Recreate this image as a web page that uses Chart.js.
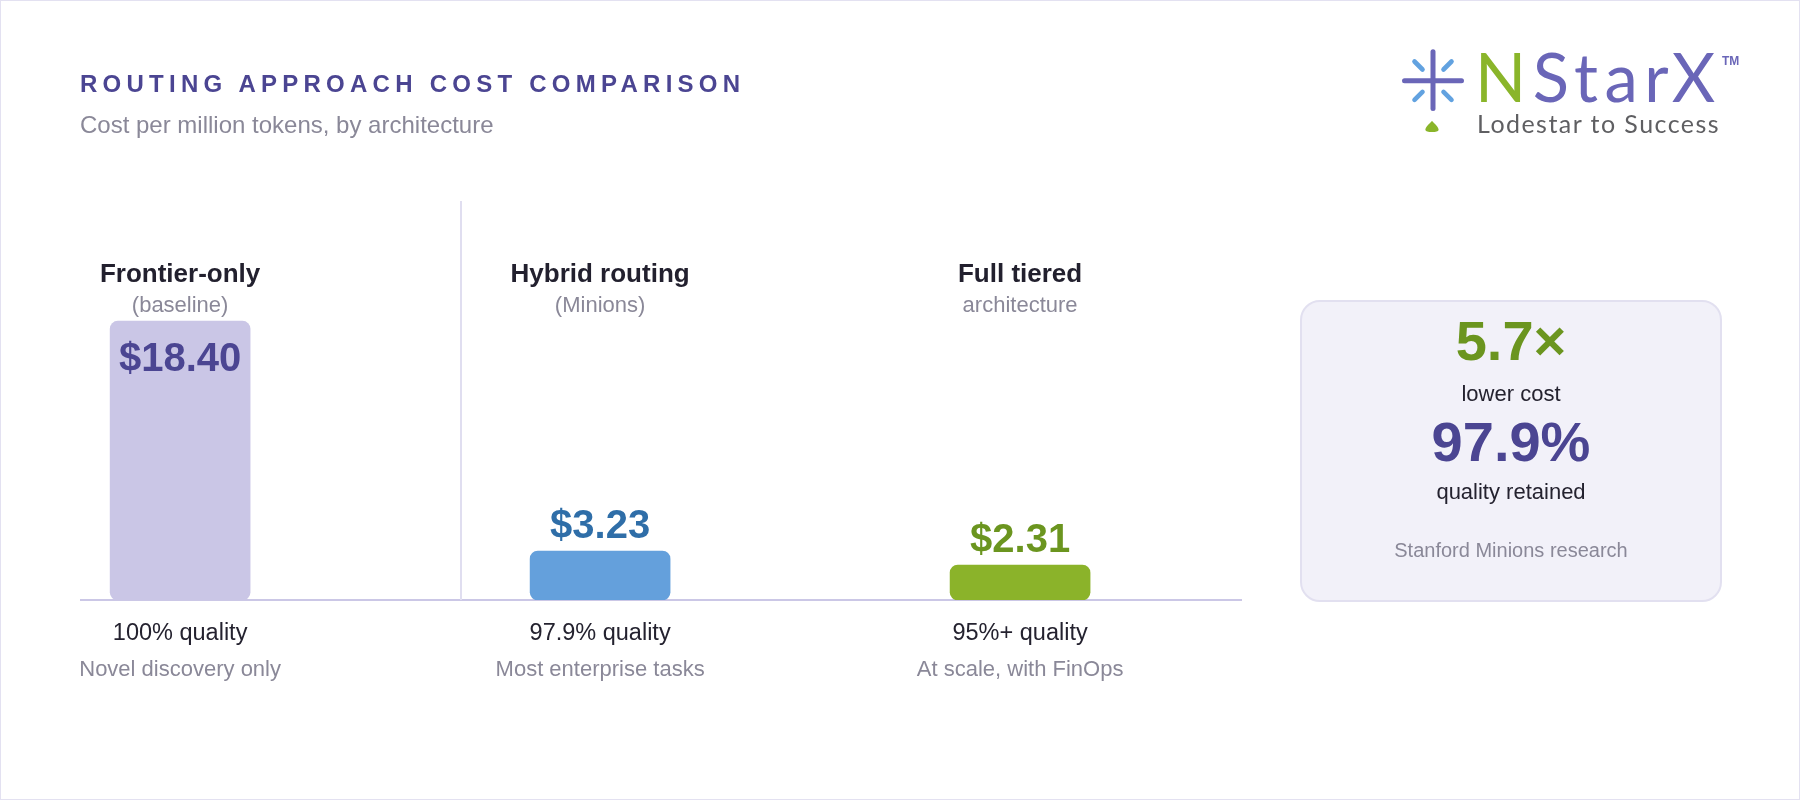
<!DOCTYPE html>
<html>
<head>
<meta charset="utf-8">
<script src="https://cdn.jsdelivr.net/npm/chart.js@4.4.1/dist/chart.umd.min.js"></script>
<style>
  html, body { margin: 0; padding: 0; background: #ffffff; }
  #frame { position: relative; width: 1800px; height: 800px; box-sizing: border-box; border: 1px solid #e3e1f1; overflow: hidden; font-family: "Liberation Sans", Arial, sans-serif; background: #fff; }
  #chart { position: absolute; left: 0; top: 0; }
  .abs { position: absolute; white-space: nowrap; line-height: 1; }
  #title { left: 79px; top: 71px; font-size: 24px; font-weight: 700; letter-spacing: 5.25px; color: #4b4592; }
  #subtitle { left: 79px; top: 112px; font-size: 24px; color: #8a8898; }
  #card { position: absolute; left: 1299px; top: 299px; width: 422px; height: 302px; box-sizing: border-box; border: 2px solid #e2e0f0; border-radius: 20px; background: #f2f1f9; }
  #card .abs { left: 0; width: 100%; text-align: center; }
  #logoText { left: 1474px; top: 42px; font-family: Lato, "Open Sans", sans-serif; font-size: 67px; font-weight: 400; letter-spacing: 6.5px; color: #6a66b8; }
  #logoText .n { color: #8ab52a; }
  #tm { left: 1721px; top: 54px; font-family: "Liberation Sans", Arial, sans-serif; font-size: 12px; font-weight: 700; color: #6a66b8; }
  #tagline { left: 1476px; top: 110px; font-family: Lato, "Open Sans", sans-serif; font-size: 25px; color: #5f5f62; letter-spacing: 1.45px; }
</style>
</head>
<body>
<div id="frame">
  <canvas id="chart" width="1800" height="800"></canvas>
  <div id="title" class="abs"></div>
  <div id="subtitle" class="abs"></div>

  <svg style="position:absolute;left:1390px;top:40px" width="80" height="100" viewBox="0 0 80 100">
    <g stroke-linecap="round" fill="none">
      <line x1="42" y1="10.8" x2="42" y2="67.5" stroke="#6a66b8" stroke-width="5"/>
      <line x1="13.5" y1="39.7" x2="70.5" y2="39.7" stroke="#6a66b8" stroke-width="5"/>
      <line x1="23.5" y1="20.5" x2="31.5" y2="28.5" stroke="#62a2e0" stroke-width="4.6"/>
      <line x1="52.5" y1="28.5" x2="60.5" y2="20.5" stroke="#62a2e0" stroke-width="4.6"/>
      <line x1="23.5" y1="58.9" x2="31.5" y2="50.9" stroke="#62a2e0" stroke-width="4.6"/>
      <line x1="52.5" y1="50.9" x2="60.5" y2="58.9" stroke="#62a2e0" stroke-width="4.6"/>
    </g>
    <path d="M41,80 C43,82 48,86.5 47.6,89 Q47,91 41,91 Q35,91 34.4,89 C34,86.5 39,82 41,80Z" fill="#8ab52a"/>
  </svg>
  <div id="logoText" class="abs"><span class="n">N</span>StarX</div>
  <div id="tm" class="abs">TM</div>
  <div id="tagline" class="abs">Lodestar to Success</div>

  <div id="card">
    <div class="abs" id="kpi1" style="top:11px;font-size:56px;font-weight:700;color:#6b951f;"></div>
    <div class="abs" id="kpi1l" style="top:81px;font-size:22px;color:#24222f;"></div>
    <div class="abs" id="kpi2" style="top:112px;font-size:56px;font-weight:700;color:#4b4592;"></div>
    <div class="abs" id="kpi2l" style="top:179px;font-size:22px;color:#24222f;"></div>
    <div class="abs" id="kpiSrc" style="top:238px;font-size:20px;color:#8a8898;"></div>
  </div>
</div>

<script>
// ---- Data ----
const titleText = 'ROUTING APPROACH COST COMPARISON';
const subtitleText = 'Cost per million tokens, by architecture';
const categories = ['Frontier-only', 'Hybrid routing', 'Full tiered'];
const categoryNotes = ['(baseline)', '(Minions)', 'architecture'];
const costs = [18.40, 3.23, 2.31];
const costLabels = ['$18.40', '$3.23', '$2.31'];
const qualityLabels = ['100% quality', '97.9% quality', '95%+ quality'];
const useCases = ['Novel discovery only', 'Most enterprise tasks', 'At scale, with FinOps'];
const kpiValues = ['5.7×', '97.9%'];
const kpiLabels = ['lower cost', 'quality retained'];
const kpiSource = 'Stanford Minions research';

// ---- Styles ----
const barColors = ['#cac6e6', '#64a0dc', '#8bb32a'];
const valueColors = ['#4b4592', '#2f6ea8', '#6b951f'];
const FONT = '"Liberation Sans", Arial, sans-serif';

document.getElementById('title').textContent = titleText;
document.getElementById('subtitle').textContent = subtitleText;
document.getElementById('kpi1').textContent = kpiValues[0];
document.getElementById('kpi1l').textContent = kpiLabels[0];
document.getElementById('kpi2').textContent = kpiValues[1];
document.getElementById('kpi2l').textContent = kpiLabels[1];
document.getElementById('kpiSrc').textContent = kpiSource;

const labelPlugin = {
  id: 'labelPlugin',
  beforeDatasetsDraw(chart) {
    const ctx = chart.ctx;
    const area = chart.chartArea;
    ctx.save();
    ctx.strokeStyle = '#e0def0';
    ctx.lineWidth = 2;
    ctx.beginPath();
    ctx.moveTo(460, 200);
    ctx.lineTo(460, area.bottom);
    ctx.stroke();
    ctx.restore();
  },
  afterDatasetsDraw(chart) {
    const ctx = chart.ctx;
    const xs = chart.scales.x;
    const base = chart.chartArea.bottom;
    const meta = chart.getDatasetMeta(0);
    ctx.save();
    ctx.textAlign = 'center';
    ctx.textBaseline = 'alphabetic';
    categories.forEach((name, i) => {
      const cx = xs.getPixelForValue(i);
      ctx.fillStyle = '#22202e';
      ctx.font = '700 26px ' + FONT;
      ctx.fillText(name, cx, 281);
      ctx.fillStyle = '#8a8898';
      ctx.font = '22px ' + FONT;
      ctx.fillText(categoryNotes[i], cx, 311);

      const top = meta.data[i].y;
      ctx.font = '700 40px ' + FONT;
      ctx.fillStyle = valueColors[i];
      let y = top - 13;
      if (y - 30 < 320) y = top + 50;
      ctx.fillText(costLabels[i], cx, y);

      ctx.fillStyle = '#24222f';
      ctx.font = '23.5px ' + FONT;
      ctx.fillText(qualityLabels[i], cx, base + 40);
      ctx.fillStyle = '#8a8898';
      ctx.font = '22px ' + FONT;
      ctx.fillText(useCases[i], cx, base + 76);
    });
    ctx.restore();
  }
};

new Chart(document.getElementById('chart'), {
  type: 'bar',
  data: {
    labels: categories,
    datasets: [{
      data: costs.map((v, i) => ({ x: i, y: v })),
      backgroundColor: barColors,
      borderRadius: 8,
      borderSkipped: false,
      barThickness: 140
    }]
  },
  options: {
    responsive: false,
    devicePixelRatio: 1,
    animation: false,
    layout: { padding: { left: 80, right: 560, top: 205, bottom: 201 } },
    plugins: { legend: { display: false }, tooltip: { enabled: false } },
    scales: {
      x: {
        type: 'linear', min: -0.236, max: 2.526, offset: false,
        grid: { display: false, drawTicks: false },
        ticks: { display: false },
        border: { display: true, color: '#cbc7e6', width: 2 }
      },
      y: { min: 0, max: 26, display: false }
    }
  },
  plugins: [labelPlugin]
});
</script>
</body>
</html>
